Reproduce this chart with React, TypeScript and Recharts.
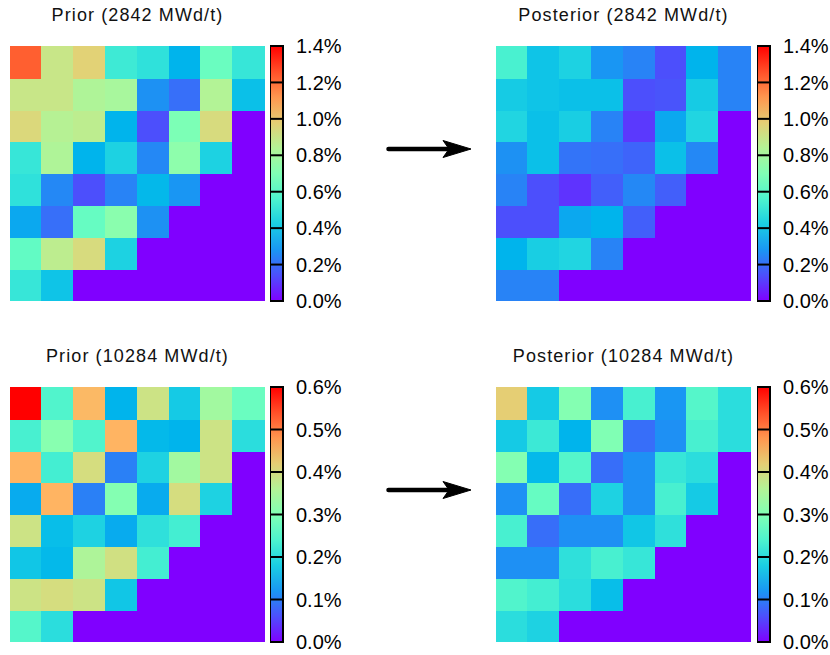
import { BarChart, Bar, Cell, XAxis, YAxis, ReferenceLine } from "recharts";

// cell values in %, rows top -> bottom, columns left -> right
const prior2842 = [
  [1.23, 0.9, 0.97, 0.52, 0.48, 0.35, 0.64, 0.5],
  [0.9, 0.9, 0.83, 0.81, 0.27, 0.2, 0.84, 0.38],
  [0.95, 0.85, 0.87, 0.35, 0.14, 0.69, 0.94, 0],
  [0.5, 0.83, 0.35, 0.43, 0.25, 0.74, 0.43, 0],
  [0.48, 0.25, 0.14, 0.24, 0.36, 0.28, 0, 0],
  [0.32, 0.2, 0.63, 0.73, 0.27, 0, 0, 0],
  [0.62, 0.87, 0.94, 0.43, 0, 0, 0, 0],
  [0.5, 0.39, 0, 0, 0, 0, 0, 0],
];

const posterior2842 = [
  [0.55, 0.39, 0.43, 0.28, 0.24, 0.14, 0.35, 0.24],
  [0.41, 0.39, 0.38, 0.38, 0.14, 0.15, 0.41, 0.24],
  [0.44, 0.38, 0.42, 0.24, 0.1, 0.32, 0.44, 0],
  [0.27, 0.38, 0.21, 0.2, 0.18, 0.38, 0.25, 0],
  [0.24, 0.14, 0.09, 0.17, 0.25, 0.17, 0, 0],
  [0.14, 0.14, 0.32, 0.35, 0.17, 0, 0, 0],
  [0.35, 0.42, 0.44, 0.24, 0, 0, 0, 0],
  [0.24, 0.24, 0, 0, 0, 0, 0, 0],
];

const prior10284 = [
  [0.6, 0.245, 0.445, 0.15, 0.39, 0.175, 0.34, 0.275],
  [0.235, 0.31, 0.245, 0.45, 0.155, 0.15, 0.39, 0.2],
  [0.45, 0.23, 0.4, 0.1, 0.185, 0.34, 0.39, 0],
  [0.14, 0.45, 0.1, 0.305, 0.14, 0.4, 0.185, 0],
  [0.39, 0.16, 0.185, 0.14, 0.205, 0.23, 0, 0],
  [0.17, 0.155, 0.355, 0.395, 0.23, 0, 0, 0],
  [0.39, 0.4, 0.39, 0.17, 0, 0, 0, 0],
  [0.25, 0.2, 0, 0, 0, 0, 0, 0],
];

const posterior10284 = [
  [0.42, 0.175, 0.305, 0.115, 0.235, 0.12, 0.25, 0.2],
  [0.175, 0.22, 0.15, 0.3, 0.085, 0.115, 0.235, 0.2],
  [0.305, 0.155, 0.25, 0.085, 0.115, 0.215, 0.2, 0],
  [0.115, 0.27, 0.085, 0.185, 0.115, 0.235, 0.175, 0],
  [0.235, 0.085, 0.115, 0.115, 0.17, 0.205, 0, 0],
  [0.115, 0.115, 0.205, 0.235, 0.215, 0, 0, 0],
  [0.245, 0.23, 0.2, 0.16, 0, 0, 0, 0],
  [0.2, 0.185, 0, 0, 0, 0, 0, 0],
];

const columns = ["1", "2", "3", "4", "5", "6", "7", "8"];
const ticks2842 = [0, 0.2, 0.4, 0.6, 0.8, 1.0, 1.2, 1.4];
const ticks10284 = [0, 0.1, 0.2, 0.3, 0.4, 0.5, 0.6];

const FONT = "'Liberation Sans', Arial, sans-serif";

// matplotlib "rainbow"
const rainbow = (t: number) => {
  const x = Math.max(0, Math.min(1, t));
  const r = Math.min(1, Math.abs(2 * x - 0.5));
  const g = Math.sin(Math.PI * x);
  const b = Math.cos((Math.PI * x) / 2);
  const h = (v: number) => Math.round(v * 255);
  return `rgb(${h(r)},${h(g)},${h(b)})`;
};

const Heatmap = ({ grid, max }: { grid: number[][]; max: number }) => {
  const data = columns.map((c) => {
    const o: Record<string, any> = { col: c };
    grid.forEach((_, i) => (o[`r${i}`] = 1));
    return o;
  });
  const order = grid.map((_, i) => i).reverse();
  return (
    <BarChart width={255} height={255} data={data} margin={{ top: 0, right: 0, bottom: 0, left: 0 }} barCategoryGap={0} barGap={0}>
      <XAxis dataKey="col" hide />
      <YAxis type="number" domain={[0, grid.length]} hide />
      {order.map((i) => (
        <Bar key={i} dataKey={`r${i}`} stackId="s" isAnimationActive={false}>
          {columns.map((c, j) => {
            const fill = rainbow(grid[i][j] / max);
            return <Cell key={c} fill={fill} stroke={fill} strokeWidth={1.6} shapeRendering="crispEdges" />;
          })}
        </Bar>
      ))}
    </BarChart>
  );
};

const Colorbar = ({ max, ticks, id }: { max: number; ticks: number[]; id: string }) => {
  const stops = [0, 0.1, 0.2, 0.3, 0.4, 0.5, 0.6, 0.7, 0.8, 0.9, 1];
  return (
    <BarChart width={73} height={279} data={[{ name: "cb", v: max }]} margin={{ top: 12, right: 0, bottom: 12, left: 0 }} barCategoryGap={0}>
      <defs>
        <linearGradient id={id} x1="0" y1="0" x2="0" y2="1">
          {stops.map((s) => (
            <stop key={s} offset={s} stopColor={rainbow(1 - s)} />
          ))}
        </linearGradient>
      </defs>
      <XAxis dataKey="name" hide />
      <YAxis
        orientation="right"
        width={60}
        domain={[0, max]}
        ticks={ticks}
        interval={0}
        tickLine={false}
        axisLine={false}
        tickSize={0}
        tickMargin={13}
        tick={{ fill: "#000", fontSize: 20, fontFamily: FONT }}
        tickFormatter={(v: number) => `${v.toFixed(1)}%`}
      />
      <Bar dataKey="v" fill={`url(#${id})`} stroke="#000" strokeWidth={2} isAnimationActive={false} />
      {ticks.slice(1, -1).map((t) => (
        <ReferenceLine key={t} y={t} stroke="#000" strokeWidth={2} />
      ))}
    </BarChart>
  );
};

const Title = ({ text, left, top }: { text: string; left: number; top: number }) => (
  <div
    style={{
      position: "absolute",
      left: left - 40,
      top,
      width: 335,
      textAlign: "center",
      fontFamily: FONT,
      fontSize: 18,
      letterSpacing: 1.1,
      color: "#111",
      whiteSpace: "nowrap",
    }}
  >
    {text}
  </div>
);

const Arrow = ({ top }: { top: number }) => (
  <svg style={{ position: "absolute", left: 380, top: top - 15 }} width={100} height={30}>
    <line x1={8.5} y1={15} x2={70} y2={15} stroke="#000" strokeWidth={4.5} strokeLinecap="round" />
    <polygon points="91,15 63,6.5 69,15 63,23.5" fill="#000" stroke="#000" strokeWidth={1} strokeLinejoin="round" />
  </svg>
);

const Panel = ({
  title,
  grid,
  max,
  ticks,
  id,
  left,
  top,
  cbLeft,
}: {
  title: string;
  grid: number[][];
  max: number;
  ticks: number[];
  id: string;
  left: number;
  top: number;
  cbLeft: number;
}) => (
  <>
    <Title text={title} left={left} top={top - 41} />
    <div style={{ position: "absolute", left, top }}>
      <Heatmap grid={grid} max={max} />
    </div>
    <div style={{ position: "absolute", left: cbLeft, top: top - 12 }}>
      <Colorbar max={max} ticks={ticks} id={id} />
    </div>
  </>
);

export default function App() {
  return (
    <div style={{ position: "absolute", left: 0, top: 0, width: 830, height: 655, background: "#fff" }}>
      <Panel title="Prior (2842 MWd/t)" grid={prior2842} max={1.4} ticks={ticks2842} id="cbA" left={10} top={46} cbLeft={270} />
      <Panel title="Posterior (2842 MWd/t)" grid={posterior2842} max={1.4} ticks={ticks2842} id="cbB" left={496} top={46} cbLeft={757} />
      <Panel title="Prior (10284 MWd/t)" grid={prior10284} max={0.6} ticks={ticks10284} id="cbC" left={10} top={387} cbLeft={270} />
      <Panel title="Posterior (10284 MWd/t)" grid={posterior10284} max={0.6} ticks={ticks10284} id="cbD" left={496} top={387} cbLeft={757} />
      <Arrow top={149} />
      <Arrow top={490} />
    </div>
  );
}
